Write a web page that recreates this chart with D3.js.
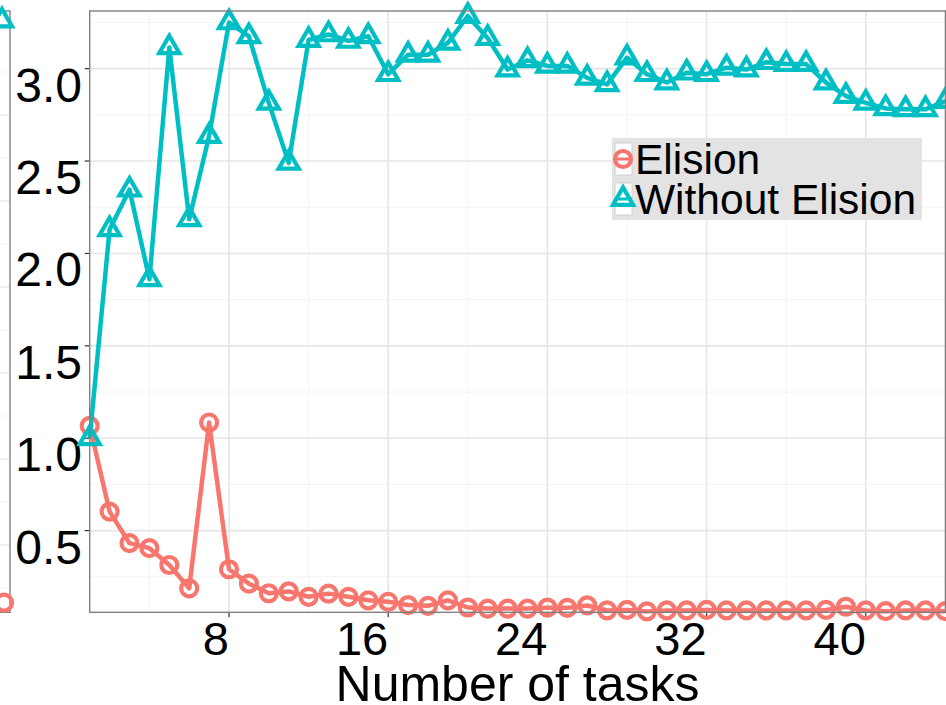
<!DOCTYPE html>
<html lang="en">
<head>
  <meta charset="UTF-8">
  <script src="https://cdn.jsdelivr.net/npm/d3@7"></script>
  <title>Number of tasks</title>
  <style>
    body { margin: 0; background: #fff; }
    text { font-family: "Liberation Sans", Arial, sans-serif; fill: #000; }
  </style>
</head>
<body>
  <div class="chart"></div>
  <script>
    const tasks = [1, 2, 3, 4, 5, 6, 7, 8, 9, 10, 11, 12, 13, 14, 15, 16, 17, 18, 19, 20, 21, 22,
      23, 24, 25, 26, 27, 28, 29, 30, 31, 32, 33, 34, 35, 36, 37, 38, 39, 40, 41, 42, 43, 44];

    const elision = [1.067, 0.603, 0.432, 0.405, 0.314, 0.188, 1.085, 0.291, 0.213, 0.161, 0.171,
      0.142, 0.159, 0.142, 0.123, 0.115, 0.097, 0.093, 0.123, 0.084, 0.078, 0.078, 0.078, 0.083,
      0.082, 0.095, 0.068, 0.071, 0.063, 0.068, 0.068, 0.071, 0.068, 0.068, 0.068, 0.068, 0.068,
      0.071, 0.088, 0.068, 0.064, 0.068, 0.068, 0.064];

    const withoutElision = [1.0, 2.13, 2.345, 1.86, 3.115, 2.185, 2.635, 3.25, 3.175, 2.815, 2.49,
      3.155, 3.185, 3.15, 3.175, 2.97, 3.075, 3.075, 3.14, 3.285, 3.165, 2.995, 3.045, 3.015,
      3.015, 2.95, 2.915, 3.06, 2.97, 2.925, 2.978, 2.97, 3.005, 2.995, 3.035, 3.025, 3.025,
      2.925, 2.852, 2.815, 2.785, 2.78, 2.78, 2.825];

    const xTicks = [8, 16, 24, 32, 40];
    const xMinor = [4, 12, 20, 28, 36, 44];
    const yTicks = [0.5, 1.0, 1.5, 2.0, 2.5, 3.0];
    const yMinor = [0.25, 0.75, 1.25, 1.75, 2.25, 2.75, 3.25];

    // the neighbouring panel, only its right edge is in the picture
    const leftGrid = [3.5, 3.25, 3.0, 2.75, 2.5, 2.25, 2.0, 1.75, 1.5, 1.25, 1.0, 0.75, 0.5, 0.25];
    const leftElision = [0.11];
    const leftWithout = [3.26];

    const series = [
      { name: 'Elision', values: elision, color: '#F8766D', shape: 'circle' },
      { name: 'Without Elision', values: withoutElision, color: '#00BFC4', shape: 'triangle' }
    ];

    const width = 946, height = 705;
    const svg = d3.select('.chart').append('svg').attr('width', width).attr('height', height);

    const x = d3.scaleLinear().domain([1, 44]).range([89.7, 945.4]);
    const y = d3.scaleLinear().domain([0.058, 3.312]).range([612.3, 11]);
    const panelTop = y.range()[1], panelBottom = y.range()[0];
    const [panelLeft, panelRight] = x.range();

    const triangle = d3.symbol().type(d3.symbolTriangle).size(175);

    const drawMarker = (g, shape, color, px, py) => {
      if (shape === 'circle') {
        g.append('circle').attr('cx', px).attr('cy', py).attr('r', 8)
          .attr('fill', 'none').attr('stroke', color).attr('stroke-width', 4.2);
      } else {
        g.append('path').attr('d', triangle).attr('transform', `translate(${px},${py})`)
          .attr('fill', 'none').attr('stroke', color).attr('stroke-width', 4.2);
      }
    };

    // left panel fragment
    const yL = d3.scaleLinear().domain([0.25, 3.5]).range([588, 29]);
    const xL = d3.scaleLinear().domain([43, 44]).range([-16, 2]);
    svg.append('g').selectAll('line').data(leftGrid).join('line')
      .attr('x1', 0).attr('x2', 10).attr('y1', d => yL(d)).attr('y2', d => yL(d))
      .attr('stroke', (d, i) => i % 2 ? '#f3f3f3' : '#e6e6e6').attr('stroke-width', 1.2);
    svg.append('rect').attr('x', -50).attr('y', panelTop).attr('width', 60).attr('height', panelBottom - panelTop)
      .attr('fill', 'none').attr('stroke', '#808080').attr('stroke-width', 1.4);
    const leftG = svg.append('g');
    drawMarker(leftG, 'triangle', '#00BFC4', xL(44), y(leftWithout[0]));
    drawMarker(leftG, 'circle', '#F8766D', xL(44) + 2, y(leftElision[0]));

    // grid
    const grid = svg.append('g');
    grid.selectAll('.xminor').data(xMinor).join('line')
      .attr('x1', d => x(d)).attr('x2', d => x(d)).attr('y1', panelTop).attr('y2', panelBottom)
      .attr('stroke', '#f4f4f4').attr('stroke-width', 1);
    grid.selectAll('.yminor').data(yMinor).join('line')
      .attr('x1', panelLeft).attr('x2', panelRight).attr('y1', d => y(d)).attr('y2', d => y(d))
      .attr('stroke', '#f4f4f4').attr('stroke-width', 1);
    grid.selectAll('.xmajor').data(xTicks).join('line')
      .attr('x1', d => x(d)).attr('x2', d => x(d)).attr('y1', panelTop).attr('y2', panelBottom)
      .attr('stroke', '#e6e6e6').attr('stroke-width', 1.6);
    grid.selectAll('.ymajor').data(yTicks).join('line')
      .attr('x1', panelLeft).attr('x2', panelRight).attr('y1', d => y(d)).attr('y2', d => y(d))
      .attr('stroke', '#e6e6e6').attr('stroke-width', 1.6);

    // axes: ticks and labels (labels sit right/below of their tick as in the original)
    const axes = svg.append('g');
    axes.selectAll('.yt').data(yTicks).join('line')
      .attr('x1', panelLeft - 5).attr('x2', panelLeft).attr('y1', d => y(d)).attr('y2', d => y(d))
      .attr('stroke', '#333').attr('stroke-width', 1.2);
    axes.selectAll('.yl').data(yTicks).join('text')
      .attr('x', 82).attr('y', d => y(d) + 33)
      .attr('text-anchor', 'end').attr('font-size', 48)
      .text(d => d.toFixed(1));
    axes.selectAll('.xt').data(xTicks).join('line')
      .attr('x1', d => x(d)).attr('x2', d => x(d)).attr('y1', panelBottom).attr('y2', panelBottom + 5)
      .attr('stroke', '#333').attr('stroke-width', 1.2);
    axes.selectAll('.xl').data(xTicks).join('text')
      .attr('x', d => x(d)).attr('y', 655)
      .attr('text-anchor', 'end').attr('font-size', 47)
      .text(d => d);
    axes.append('text').attr('x', (panelLeft + panelRight) / 2).attr('y', 701)
      .attr('text-anchor', 'middle').attr('font-size', 50)
      .text('Number of tasks');

    // lines and markers
    const line = d3.line().x((d, i) => x(tasks[i])).y(d => y(d));
    series.forEach(s => {
      svg.append('path').datum(s.values).attr('d', line)
        .attr('fill', 'none').attr('stroke', s.color).attr('stroke-width', 4.5)
        .attr('stroke-linejoin', 'round');
      const g = svg.append('g');
      s.values.forEach((v, i) => drawMarker(g, s.shape, s.color, x(tasks[i]), y(v)));
    });

    // panel border
    svg.append('rect').attr('x', panelLeft).attr('y', panelTop)
      .attr('width', panelRight - panelLeft).attr('height', panelBottom - panelTop)
      .attr('fill', 'none').attr('stroke', '#808080').attr('stroke-width', 1.4);

    // legend
    const legend = svg.append('g').attr('transform', 'translate(612,138)');
    legend.append('rect').attr('width', 310).attr('height', 82).attr('fill', '#e3e3e3');
    series.forEach((s, i) => {
      const row = legend.append('g').attr('transform', `translate(0,${5 + i * 40})`);
      row.append('rect').attr('x', 3).attr('y', 0).attr('width', 17).attr('height', 32)
        .attr('fill', '#fff').attr('stroke', '#d0d0d0').attr('stroke-width', 1);
      row.append('line').attr('x1', 3).attr('x2', 20).attr('y1', 16).attr('y2', 16)
        .attr('stroke', s.color).attr('stroke-width', 3);
      drawMarker(row, s.shape, s.color, 11, 16);
      row.append('text').attr('x', 23).attr('y', 31).attr('font-size', 42.5).text(s.name);
    });
  </script>
</body>
</html>
